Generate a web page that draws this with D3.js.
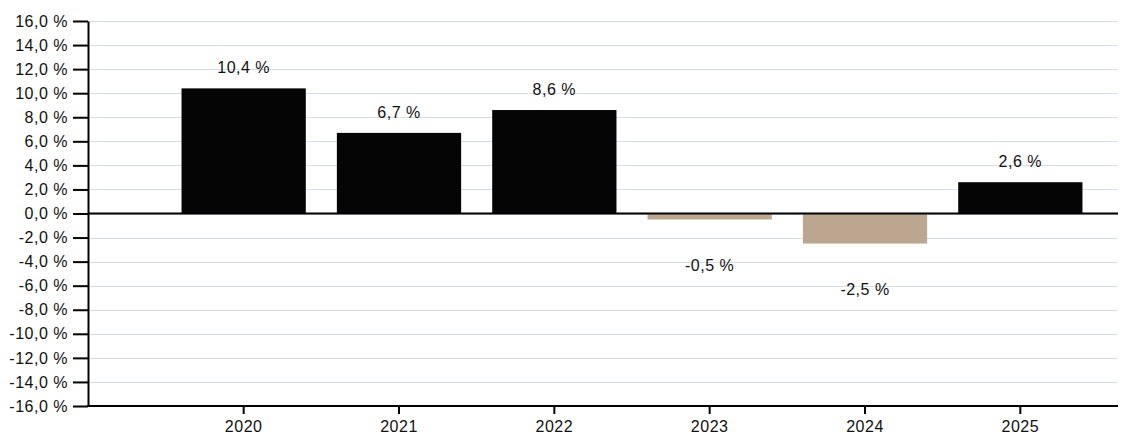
<!DOCTYPE html>
<meta charset="utf-8">
<style>
body { margin: 0; background: #fff; }
text { font-family: "Liberation Sans", Arial, sans-serif; fill: #111; letter-spacing: 0.5px; }
.grid line { stroke: #d5dfe9; stroke-width: 1px; }
.axis path, .axis line { stroke: #000; stroke-width: 2px; }
.axis text { font-size: 16px; }
.label { font-size: 16px; }
</style>
<svg width="1121" height="435"></svg>
<script src="https://d3js.org/d3.v7.min.js"></script>
<script>

var years = ["2020", "2021", "2022", "2023", "2024", "2025"];
var values = [10.4, 6.7, 8.6, -0.5, -2.5, 2.6];
var yTicks = [16, 14, 12, 10, 8, 6, 4, 2, 0, -2, -4, -6, -8, -10, -12, -14, -16];

var svg = d3.select("svg");
var mLeft = 88, mRight = 1118, mTop = 21, mBottom = 406;

var x = d3.scaleBand()
    .domain(years)
    .range([166, 1098])
    .paddingInner(0.2)
    .paddingOuter(0.1);

var y = d3.scaleLinear()
    .domain([-16, 16])
    .range([mBottom, mTop]);

var fmt = function(v) { return d3.format(".1f")(v).replace(".", ",").replace("−", "-") + " %"; };

// gridlines
svg.append("g")
    .attr("class", "grid")
  .selectAll("line")
  .data(yTicks)
  .enter().append("line")
    .attr("x1", mLeft)
    .attr("x2", mRight)
    .attr("y1", function(d) { return Math.round(y(d)) + 0.5; })
    .attr("y2", function(d) { return Math.round(y(d)) + 0.5; });

// bars
svg.append("g")
  .selectAll("rect")
  .data(values)
  .enter().append("rect")
    .attr("x", function(d, i) { return x(years[i]); })
    .attr("width", x.bandwidth())
    .attr("y", function(d) { return y(Math.max(0, d)); })
    .attr("height", function(d) { return Math.abs(y(d) - y(0)); })
    .attr("fill", function(d) { return d >= 0 ? "#050505" : "#bba68f"; });

// value labels
svg.append("g")
  .selectAll("text")
  .data(values)
  .enter().append("text")
    .attr("class", "label")
    .attr("text-anchor", "middle")
    .attr("x", function(d, i) { return x(years[i]) + x.bandwidth() / 2; })
    .attr("y", function(d) { return d >= 0 ? y(d) - 15 : y(d) + 51; })
    .text(fmt);

// zero line
svg.append("line")
    .attr("x1", mLeft)
    .attr("x2", mRight)
    .attr("y1", y(0))
    .attr("y2", y(0))
    .attr("stroke", "#000")
    .attr("stroke-width", 2);

// y axis
svg.append("g")
    .attr("class", "axis")
    .attr("transform", "translate(" + mLeft + ",0)")
    .call(d3.axisLeft(y).tickValues(yTicks).tickSize(15).tickSizeOuter(0).tickPadding(5).tickFormat(fmt));

// x axis
var xAxis = svg.append("g")
    .attr("class", "axis")
    .attr("transform", "translate(0," + mBottom + ")")
    .call(d3.axisBottom(x).tickSize(8).tickSizeOuter(0).tickPadding(7));
xAxis.select(".domain").attr("d", "M" + (mLeft - 1) + ",0H" + mRight);

</script>
